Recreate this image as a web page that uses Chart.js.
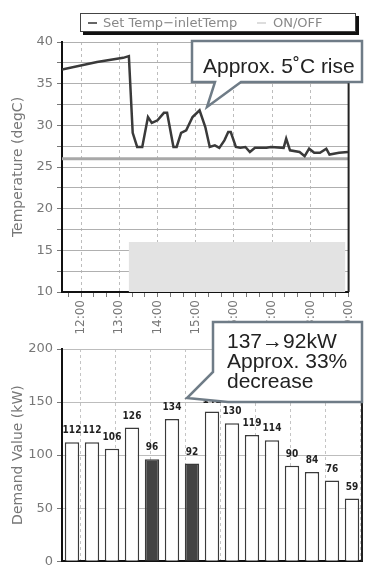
<!DOCTYPE html>
<html>
<head>
<meta charset="utf-8">
<script src="https://cdn.jsdelivr.net/npm/chart.js"></script>
<style>
  html, body { margin: 0; padding: 0; background: #fff; }
  body { width: 366px; height: 573px; position: relative; overflow: hidden; }
  #topWrap { position: absolute; left: 0; top: 0; width: 366px; height: 335px; }
  #bottomWrap { position: absolute; left: 0; top: 335px; width: 366px; height: 238px; }
  #legend { position: absolute; left: 80px; top: 13px; width: 274px; height: 17px; border: 1px solid #444;
            box-shadow: 3px 3px 0 #111; background: #fff; font: 13px "DejaVu Sans", sans-serif; color: #888; }
  #legend span { position: absolute; top: 0; line-height: 17px; white-space: nowrap; }
  #legend i { position: absolute; top: 8px; height: 0; width: 9px; }
  #overlay { position: absolute; left: 0; top: 0; }
</style>
</head>
<body>
<div id="topWrap"><canvas id="topChart"></canvas></div>
<div id="bottomWrap"><canvas id="bottomChart"></canvas></div>
<div id="legend">
  <i style="left:7px;border-top:2px solid #666"></i><span style="left:22px">Set Temp−inletTemp</span>
  <i style="left:176px;border-top:2px solid #ddd"></i><span style="left:192px">ON/OFF</span>
</div>
<svg id="overlay" width="366" height="573">
  <path d="M192,41 H362 V82 H241 L207,107 L215,82 H192 Z" fill="#fff" stroke="#6f7c87" stroke-width="2.5"/>
  <text x="203" y="73" font-family="Liberation Sans, Arial, sans-serif" font-size="21" fill="#222">Approx. 5˚C rise</text>
  <path d="M213,322 H362 V402 H228 L187,398 L213,372 Z" fill="#fff" stroke="#6f7c87" stroke-width="2.5"/>
  <text font-family="Liberation Sans, Arial, sans-serif" font-size="21" fill="#222">
    <tspan x="227" y="348">137→92kW</tspan>
    <tspan x="227" y="368">Approx. 33%</tspan>
    <tspan x="227" y="388">decrease</tspan>
  </text>
</svg>
<script>
// time axis
const axisStart = '11:30';
const axisEnd = '19:00';
const hourTicks = ['12:00', '13:00', '14:00', '15:00', '16:00', '17:00', '18:00', '19:00'];

// SetTemp - inletTemp (degC)
const tempTimes = ['11:30', '12:25', '13:06', '13:15', '13:21', '13:28', '13:36', '13:45', '13:51', '14:00',
                   '14:10', '14:15', '14:25', '14:30', '14:37', '14:45', '14:55', '15:06', '15:15', '15:22',
                   '15:30', '15:37', '15:45', '15:51', '15:55', '16:03', '16:10', '16:18', '16:25', '16:33',
                   '16:51', '16:58', '17:18', '17:22', '17:28', '17:43', '17:51', '17:58', '18:06', '18:15',
                   '18:25', '18:30', '18:45', '18:59'];
const tempValues = [36.7, 37.6, 38.1, 38.3, 29.1, 27.4, 27.4, 31.0, 30.3, 30.6,
                    31.5, 31.5, 27.4, 27.4, 29.1, 29.4, 31.0, 31.8, 29.8, 27.4,
                    27.6, 27.3, 28.2, 29.2, 29.2, 27.4, 27.3, 27.4, 26.8, 27.3,
                    27.3, 27.4, 27.3, 28.4, 27.0, 26.8, 26.3, 27.2, 26.7, 26.7,
                    27.2, 26.5, 26.7, 26.8];

// set temperature line
const setTimes = ['11:30', '19:00'];
const setValues = [26, 26];

// ON/OFF band
const onOffTimes = ['11:30', '13:15', '18:55'];
const onOffValues = [10, 16, 10];

// demand per 30 min slot (kW)
const slotLabels = ['11:30', '12:00', '12:30', '13:00', '13:30', '14:00', '14:30', '15:00',
                    '15:30', '16:00', '16:30', '17:00', '17:30', '18:00', '18:30'];
const demandValues = [112, 112, 106, 126, 96, 134, 92, 141, 130, 119, 114, 90, 84, 76, 59];
const controlledSlots = ['13:30', '14:30'];

function toMin(t) {
    const [h, m] = t.split(':').map(Number);
    return h * 60 + m;
}

function points(times, values) {
    return times.map((t, i) => ({ x: toMin(t), y: values[i] }));
}

const tickFont = { family: 'DejaVu Sans', size: 13 };
const titleFont = { family: 'DejaVu Sans', size: 14 };
const hourValues = hourTicks.map(toMin);
const minorValues = [];
for (let v = toMin(axisStart) + 10; v <= toMin(axisEnd); v += 20) minorValues.push(v);

const rightFrame = {
    id: 'rightFrame',
    afterDraw(chart) {
        const { ctx, chartArea: a } = chart;
        ctx.save();
        ctx.strokeStyle = '#222';
        ctx.lineWidth = 2;
        ctx.beginPath();
        ctx.moveTo(a.right, a.top);
        ctx.lineTo(a.right, a.bottom);
        ctx.stroke();
        ctx.restore();
    }
};

const valueLabels = {
    id: 'valueLabels',
    afterDatasetsDraw(chart) {
        const ctx = chart.ctx;
        ctx.save();
        ctx.font = 'bold 10px "Liberation Sans Narrow", "DejaVu Sans Condensed", "Liberation Sans", sans-serif';
        ctx.textAlign = 'center';
        ctx.fillStyle = '#222';
        chart.getDatasetMeta(0).data.forEach((bar, i) => {
            ctx.fillText(String(demandValues[i]), bar.x, bar.y - 9);
        });
        ctx.restore();
    }
};

new Chart(document.getElementById('topChart'), {
    type: 'line',
    data: {
        datasets: [
            { label: 'SetTemp−inletTemp', data: points(tempTimes, tempValues), borderColor: '#3a3a3a',
              borderWidth: 2.5, pointRadius: 0, order: 0 },
            { label: 'SetTemp', data: points(setTimes, setValues), borderColor: '#a8a8a8',
              borderWidth: 3, pointRadius: 0, order: 1 },
            { label: 'ON/OFF', data: points(onOffTimes, onOffValues), stepped: true, fill: 'start',
              backgroundColor: '#e3e3e3', borderColor: 'rgba(0,0,0,0)', borderWidth: 0, pointRadius: 0, order: 2 }
        ]
    },
    options: {
        responsive: true,
        maintainAspectRatio: false,
        animation: false,
        layout: { padding: { top: 42, right: 4, left: 0, bottom: 0 } },
        plugins: { legend: { display: false }, tooltip: { enabled: false } },
        scales: {
            x: {
                type: 'linear',
                min: toMin(axisStart),
                max: toMin(axisEnd),
                afterBuildTicks: s => { s.ticks = minorValues.map(v => ({ value: v })); },
                afterFit: s => { s.height = 43; },
                ticks: {
                    autoSkip: false, minRotation: 90, maxRotation: 90, padding: 3, color: '#777', font: { family: 'DejaVu Sans', size: 12 },
                    callback: v => { const i = hourValues.indexOf(v); return i >= 0 ? hourTicks[i] : ''; }
                },
                grid: {
                    color: c => (c.tick && hourValues.includes(c.tick.value)) ? '#bdbdbd' : 'rgba(0,0,0,0)',
                    tickColor: '#777', tickLength: 5
                },
                border: { color: '#111', width: 2, dash: [3, 3] }
            },
            y: {
                min: 10,
                max: 40,
                afterFit: s => { s.width = 62; },
                ticks: { stepSize: 2.5, padding: 4, color: '#777', font: tickFont,
                         callback: v => v % 5 === 0 ? v : '' },
                grid: { color: '#b0b0b0', tickColor: '#777', tickLength: 5 },
                border: { color: '#111', width: 2 },
                title: { display: true, text: 'Temperature (degC)', color: '#777', font: titleFont,
                         padding: { top: 10, bottom: 0 } }
            }
        }
    },
    plugins: [rightFrame]
});

new Chart(document.getElementById('bottomChart'), {
    type: 'bar',
    data: {
        labels: slotLabels,
        datasets: [{
            data: demandValues,
            backgroundColor: slotLabels.map(s => controlledSlots.includes(s) ? '#444' : '#fff'),
            borderColor: '#3a3a3a',
            borderWidth: 1.5,
            barPercentage: 0.72,
            categoryPercentage: 1
        }]
    },
    options: {
        responsive: true,
        maintainAspectRatio: false,
        animation: false,
        layout: { padding: { top: 14, right: 4, left: 0, bottom: 0 } },
        plugins: { legend: { display: false }, tooltip: { enabled: false } },
        scales: {
            x: {
                ticks: { display: false },
                grid: { display: false },
                border: { color: '#111', width: 2 },
                afterFit: s => { s.height = 6; }
            },
            t: {
                type: 'linear',
                position: 'top',
                min: toMin(axisStart),
                max: toMin(axisEnd),
                afterBuildTicks: s => { s.ticks = hourValues.map(v => ({ value: v })); },
                afterFit: s => { s.height = 0; },
                ticks: { display: false },
                grid: { color: '#c4c4c4', drawTicks: false },
                border: { display: false, dash: [3, 3] }
            },
            y: {
                min: 0,
                max: 200,
                afterFit: s => { s.width = 62; },
                ticks: { stepSize: 50, padding: 4, color: '#777', font: tickFont },
                grid: { color: '#bdbdbd', tickColor: '#777', tickLength: 5 },
                border: { color: '#111', width: 2 },
                title: { display: true, text: 'Demand Value (kW)', color: '#777', font: titleFont,
                         padding: { top: 10, bottom: 0 } }
            }
        }
    },
    plugins: [rightFrame, valueLabels]
});
</script>
</body>
</html>
